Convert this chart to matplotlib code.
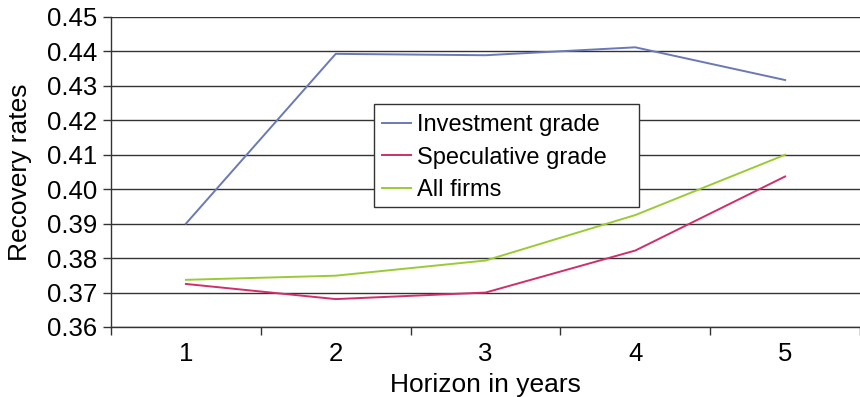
import matplotlib
matplotlib.use("Agg")
import matplotlib.pyplot as plt
from matplotlib.patches import Rectangle

plt.rcParams['font.family'] = ['Liberation Sans', 'DejaVu Sans']

horizons = [1, 2, 3, 4, 5]
investment_grade = [0.3900, 0.4393, 0.4389, 0.4412, 0.4317]
speculative_grade = [0.3725, 0.3681, 0.3700, 0.3822, 0.4037]
all_firms = [0.3737, 0.3749, 0.3793, 0.3925, 0.4100]
y_ticks = [0.36, 0.37, 0.38, 0.39, 0.40, 0.41, 0.42, 0.43, 0.44, 0.45]

W, H = 860, 397
FS = 18.5

fig = plt.figure(figsize=(W / 100, H / 100), dpi=100)
ax = fig.add_axes([111 / W, (H - 327) / H, 749 / W, 310 / H])

ax.plot(horizons, investment_grade, color='#6a79b5', lw=1.4, label='Investment grade')
ax.plot(horizons, speculative_grade, color='#cf2f6c', lw=1.4, label='Speculative grade')
ax.plot(horizons, all_firms, color='#9bcb34', lw=1.4, label='All firms')

ax.set_xlim(0.5, 5.5)
ax.set_ylim(0.36, 0.45)
ax.set_yticks(y_ticks)
ax.set_yticklabels([f'{v:.2f}' for v in y_ticks])
ax.set_xticks(horizons)
ax.set_xticks([0.5 + i for i in range(6)], minor=True)
ax.tick_params(axis='x', which='major', length=0, labelsize=FS, pad=10.5)
ax.tick_params(axis='x', which='minor', length=5.5, width=1, color='#333333', direction='out')
ax.tick_params(axis='y', length=6, width=1, color='#333333', labelsize=FS, pad=4)

ax.grid(axis='y', color='#333333', lw=1)
ax.set_axisbelow(True)
for side in ('top', 'right'):
    ax.spines[side].set_visible(False)
for side in ('left', 'bottom'):
    ax.spines[side].set_color('#333333')
    ax.spines[side].set_linewidth(1)

ax.set_xlabel('Horizon in years', fontsize=19, labelpad=5)
ax.set_ylabel('Recovery rates', fontsize=19, labelpad=11)

# legend box: a plain white frame with the entries laid over it
box = Rectangle((374 / W, (H - 207) / H), 265 / W, 103 / H, transform=fig.transFigure,
                facecolor='white', edgecolor='#333333', lw=1, zorder=4.9)
ax.add_artist(box)
box.set_clip_on(False)

leg = ax.legend(loc='upper left', bbox_to_anchor=((382 - 111) / 749, (327 - 114) / 310),
                borderaxespad=0, fontsize=17, frameon=False,
                handlelength=1.22, handletextpad=0.27, labelspacing=0.45, borderpad=0)

fig.savefig('out.png', dpi=100)
